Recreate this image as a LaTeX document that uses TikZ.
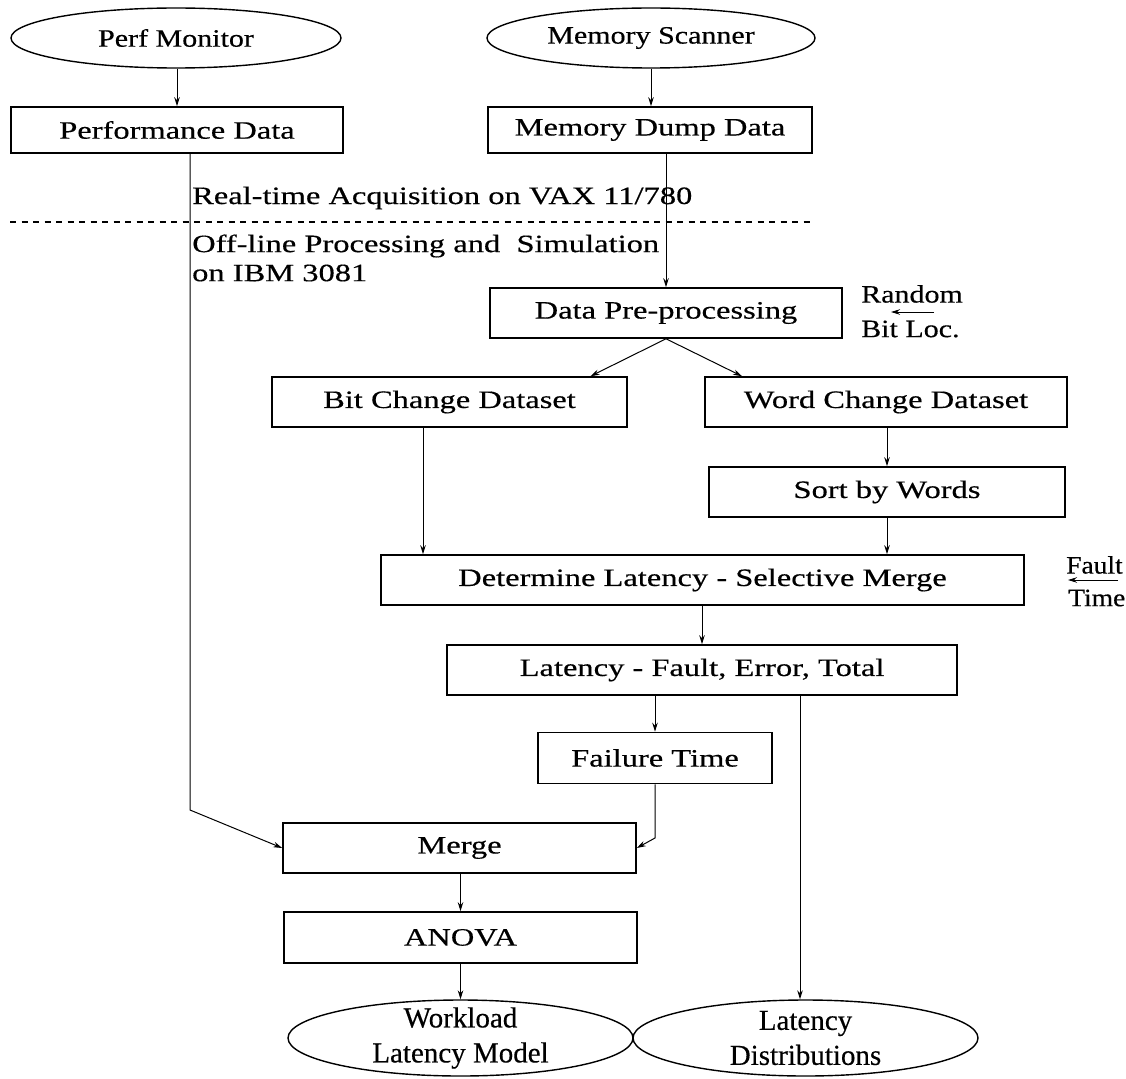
\documentclass[tikz,border=0pt]{standalone}
\usepackage{fontspec}
\setmainfont{Liberation Serif}[FakeStretch=1.3,FakeBold=0.4]
\newfontfamily\ellfont{Liberation Serif}[FakeBold=0.4]
\newfontfamily\lblfont{Liberation Serif}[FakeStretch=1.2,FakeBold=0.4]
\newfontfamily\smlfont{Liberation Serif}[FakeStretch=1.1,FakeBold=0.4]
\usetikzlibrary{shapes.geometric,arrows.meta,calc}
\begin{document}
\begin{tikzpicture}[x=1pt,y=-1pt,
  box/.style={draw, line width=1.6pt, rectangle, inner sep=0pt, font=\fontsize{25}{29}\selectfont},
  ell/.style={draw, line width=1.4pt, ellipse, inner sep=0pt, font=\lblfont\fontsize{25}{29}\selectfont},
  etext/.style={inner sep=0pt, align=center, font=\ellfont\fontsize{29}{35}\selectfont},
  arr/.style={line width=1pt, -{Stealth[length=9pt,width=5.5pt]}},
  lbl/.style={inner sep=0pt, font=\fontsize{25}{29}\selectfont},
  slbl/.style={inner sep=0pt, font=\lblfont\fontsize{25}{29}\selectfont},
  flbl/.style={inner sep=0pt, font=\smlfont\fontsize{25}{29}\selectfont},
  dashline/.style={line width=1.3pt, dash pattern=on 6pt off 5.5pt},
]
\fill[white] (0,0) rectangle (1126,1078);
\useasboundingbox (0,0) rectangle (1126,1078);

% top ellipses
\node[ell, minimum width=330pt, minimum height=60pt] (pm) at (176,38) {Perf Monitor};
\node[ell, minimum width=328pt, minimum height=60pt] (ms) at (651,38) {Memory Scanner};

% boxes
\node[box, minimum width=332pt, minimum height=46pt] (pd) at (177,130) {Performance Data};
\node[box, minimum width=324pt, minimum height=46pt] (md) at (650,130) {Memory Dump Data};
\node[box, minimum width=352pt, minimum height=50pt] (dp) at (666,313) {Data Pre-processing};
\node[box, minimum width=355pt, minimum height=50pt] (bc) at (449.5,402) {Bit Change Dataset};
\node[box, minimum width=362pt, minimum height=50pt] (wc) at (886,402) {Word Change Dataset};
\node[box, minimum width=356pt, minimum height=50pt] (sw) at (887,492) {Sort by Words};
\node[box, minimum width=643pt, minimum height=50pt] (dl) at (702.5,580) {Determine Latency - Selective Merge};
\node[box, minimum width=510pt, minimum height=50pt] (lf) at (702,670) {Latency - Fault, Error, Total};
\node[box, minimum width=234pt, minimum height=51pt] (ft) at (655,758) {Failure Time};
\node[box, minimum width=353pt, minimum height=50pt] (mg) at (459.5,848) {Merge};
\node[box, minimum width=353pt, minimum height=51pt] (an) at (460.5,937.5) {ANOVA};

% bottom ellipses
\node[ell, minimum width=345pt, minimum height=76pt] (wl) at (460.5,1038) {};
\node[etext] (wlt) at (wl) {Workload\\Latency Model};
\node[ell, minimum width=345pt, minimum height=76pt] (ld) at (805.5,1038) {};
\node[etext] (ldt) at (ld) {Latency\\Distributions};

% labels
\node[lbl, anchor=west] (rt) at (192,198) {Real-time Acquisition on VAX 11/780};
\coordinate (dL) at (10,222);
\coordinate (dR) at (812,222);
\draw[dashline] (dL) -- (dR);
\node[lbl, anchor=west] (ol1) at (192,246) {Off-line Processing and\ \ Simulation};
\node[lbl, anchor=west] (ol2) at (192,273) {on IBM 3081};

\node[slbl, anchor=west] (rnd) at (861,294) {Random};
\node[slbl, anchor=west] (bl) at (861,329) {Bit Loc.};
\coordinate (ra1) at (934,312);
\coordinate (ra2) at (891,312);
\draw[arr] (ra1) -- (ra2);

\node[flbl, anchor=west] (flt) at (1066,565) {Fault};
\node[flbl, anchor=west] (tim) at (1068,598) {Time};
\coordinate (fa1) at (1118,580);
\coordinate (fa2) at (1068,580);
\draw[arr] (fa1) -- (fa2);

% connectors
\draw[arr] (pm.south -| pd.north) -- (pd.north);
\draw[arr] (ms.south) -- (ms.south |- md.north);
\draw[arr] (md.south -| dp.north) -- (dp.north);

\coordinate (b1) at (190,810);
\draw[arr] (b1 |- pd.south) -- (b1) -- (mg.west);

\draw[arr] (dp.south) -- ([xshift=141pt]bc.north);
\draw[arr] (dp.south) -- ([xshift=-144pt]wc.north);
\draw[arr] (wc.south -| sw.north) -- (sw.north);

\coordinate (xb) at (423,0);
\draw[arr] (bc.south -| xb) -- (dl.north -| xb);
\draw[arr] (sw.south) -- (sw.south |- dl.north);
\draw[arr] (dl.south -| lf.north) -- (lf.north);
\draw[arr] (lf.south -| ft.north) -- (ft.north);

\coordinate (xl) at (800,0);
\draw[arr] (lf.south -| xl) -- (ld.north -| xl);

\coordinate (b2) at (655,838);
\draw[arr] (ft.south) -- (b2) -- (mg.east);

\draw[arr] (mg.south -| an.north) -- (an.north);
\draw[arr] (an.south -| wl.north) -- (wl.north);
\end{tikzpicture}
\end{document}
